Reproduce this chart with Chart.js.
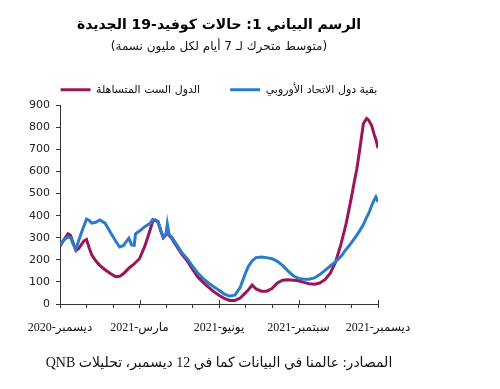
<!DOCTYPE html>
<html>
<head>
<meta charset="utf-8">
<script src="https://cdn.jsdelivr.net/npm/chart.js@4.4.1/dist/chart.umd.min.js"></script>
<style>
  body { margin: 0; background: #fff; }
  #wrap { position: relative; width: 500px; height: 389px; }
  #source {
    position: absolute; left: 0; top: 354px; width: 438px;
    text-align: center; color: #111;
    font: 14px 'Liberation Serif', 'DejaVu Sans', serif;
  }
</style>
</head>
<body>
<div id="wrap">
  <canvas id="chart" width="500" height="389" dir="rtl"></canvas>
  <div id="source" dir="rtl">المصادر: عالمنا في البيانات كما في 12 ديسمبر، تحليلات QNB</div>
</div>
<script>
// months since start of Dec 2020
const months = [
  0, 0.15, 0.3, 0.4, 0.5, 0.6, 0.7, 0.8, 0.9, 1.0,
  1.1, 1.2, 1.35, 1.5, 1.7, 1.9, 2.1, 2.25, 2.4, 2.5,
  2.6, 2.7, 2.8, 2.85, 3.0, 3.2, 3.4, 3.5, 3.6, 3.7,
  3.8, 3.9, 4.0, 4.05, 4.12, 4.2, 4.4, 4.6, 4.8, 5.0,
  5.2, 5.4, 5.6, 5.8, 6.0, 6.2, 6.4, 6.6, 6.8, 7.0,
  7.1, 7.25, 7.4, 7.6, 7.8, 8.0, 8.2, 8.4, 8.6, 8.8,
  9.0, 9.2, 9.4, 9.6, 9.8, 10.0, 10.2, 10.4, 10.6, 10.8,
  10.9, 11.0, 11.1, 11.2, 11.3, 11.45, 11.57, 11.65, 11.76, 11.85,
  11.92, 12.0
];

// the six lenient countries
const laxSix = [
  262, 292, 318, 310, 275, 242, 250, 268, 285, 292,
  255, 222, 195, 175, 155, 138, 124, 125, 138, 150,
  162, 172, 182, 188, 205, 262, 335, 375, 380, 370,
  332, 300, 312, 345, 310, 300, 262, 225, 195, 158,
  122, 98, 76, 56, 40, 25, 16, 16, 27, 50,
  63, 86, 68, 58, 58, 70, 95, 108, 110, 108,
  105, 98, 92, 90, 95, 110, 140, 190, 270, 365,
  425, 485, 550, 610, 690, 817, 840, 832, 808, 770,
  745, 705
];

// rest of the EU
const restEU = [
  268, 290, 304, 300, 270, 248, 285, 320, 352, 384,
  378, 366, 370, 380, 366, 325, 285, 258, 265, 282,
  298, 268, 266, 318, 330, 350, 365, 383, 380, 374,
  335, 302, 315, 362, 312, 305, 270, 232, 205, 172,
  140, 115, 95, 78, 62, 45, 36, 40, 75, 140,
  169, 195, 210, 213, 210, 205, 193, 175, 150, 128,
  116, 112, 112, 118, 133, 152, 172, 192, 215, 248,
  262, 278, 295, 312, 330, 360, 392, 410, 445, 470,
  485, 462
];

const tickMonths = [0, 3, 6, 9, 12];
const tickLabels = ['ديسمبر-2020', 'مارس-2021', 'يونيو-2021', 'سبتمبر-2021', 'ديسمبر-2021'];
const seriesNames = ['الدول الست المتساهلة', 'بقية دول الاتحاد الأوروبي'];

const PURPLE = '#9b1658';
const BLUE = '#2a7ccb';
const AXIS = '#333';
const SANS = "'DejaVu Sans', sans-serif";

const toPoints = vals => vals.map((v, i) => ({ x: months[i], y: v }));

// quarter ticks are a bit longer, poking up into the plot
const majorTicks = {
  id: 'majorTicks',
  afterDraw(chart) {
    const { ctx, chartArea } = chart;
    const x = chart.scales.x;
    ctx.save();
    ctx.strokeStyle = AXIS;
    ctx.lineWidth = 1;
    tickMonths.forEach(m => {
      const px = Math.round(x.getPixelForValue(m)) + 0.5;
      ctx.beginPath();
      ctx.moveTo(px, chartArea.bottom - 4);
      ctx.lineTo(px, chartArea.bottom);
      ctx.stroke();
    });
    ctx.restore();
  }
};

new Chart(document.getElementById('chart'), {
  type: 'line',
  data: {
    datasets: [
      {
        label: seriesNames[1],
        data: toPoints(restEU),
        borderColor: BLUE,
        backgroundColor: BLUE,
        borderWidth: 3,
        pointRadius: 0,
        tension: 0
      },
      {
        label: seriesNames[0],
        data: toPoints(laxSix),
        borderColor: PURPLE,
        backgroundColor: PURPLE,
        borderWidth: 3,
        pointRadius: 0,
        tension: 0
      }
    ]
  },
  options: {
    responsive: false,
    animation: false,
    layout: { padding: { left: 0, right: 62, top: 0, bottom: 45 } },
    plugins: {
      title: {
        display: true,
        text: 'الرسم البياني 1: حالات كوفيد-19 الجديدة',
        color: '#000',
        font: { family: SANS, size: 14, weight: 'bold' },
        padding: { top: 17, bottom: 3 }
      },
      subtitle: {
        display: true,
        text: '(متوسط متحرك لـ 7 أيام لكل مليون نسمة)',
        color: '#111',
        font: { family: SANS, size: 12 },
        padding: { top: 3, bottom: 0 }
      },
      legend: {
        labels: {
          usePointStyle: true,
          pointStyle: 'line',
          pointStyleWidth: 30,
          padding: 30,
          color: '#111',
          font: { family: SANS, size: 11 },
          sort: (a, b) => b.datasetIndex - a.datasetIndex
        }
      },
      tooltip: { enabled: false }
    },
    scales: {
      x: {
        type: 'linear',
        min: 0,
        max: 12,
        ticks: {
          stepSize: 1,
          autoSkip: false,
          maxRotation: 0,
          padding: 13,
          color: '#111',
          font: { family: "'Liberation Serif', 'DejaVu Sans', serif", size: 12 },
          callback: v => {
            const i = tickMonths.indexOf(v);
            return i >= 0 ? tickLabels[i] : '';
          }
        },
        grid: { drawOnChartArea: false, tickLength: 4, color: AXIS },
        border: { color: AXIS },
        afterFit: s => { s.height = 40; }
      },
      y: {
        min: 0,
        max: 900,
        ticks: {
          stepSize: 100,
          padding: 6,
          color: '#222',
          font: { family: SANS, size: 11 }
        },
        grid: { drawOnChartArea: false, tickLength: 4, color: AXIS },
        border: { color: AXIS },
        afterFit: s => { s.width = 60; }
      },
      // empty box on the right so the titles centre over the plot
      yRight: {
        position: 'right',
        display: true,
        ticks: { display: false },
        grid: { display: false },
        border: { display: false },
        afterFit: s => { s.width = 60; }
      }
    }
  },
  plugins: [majorTicks]
});
</script>
</body>
</html>
